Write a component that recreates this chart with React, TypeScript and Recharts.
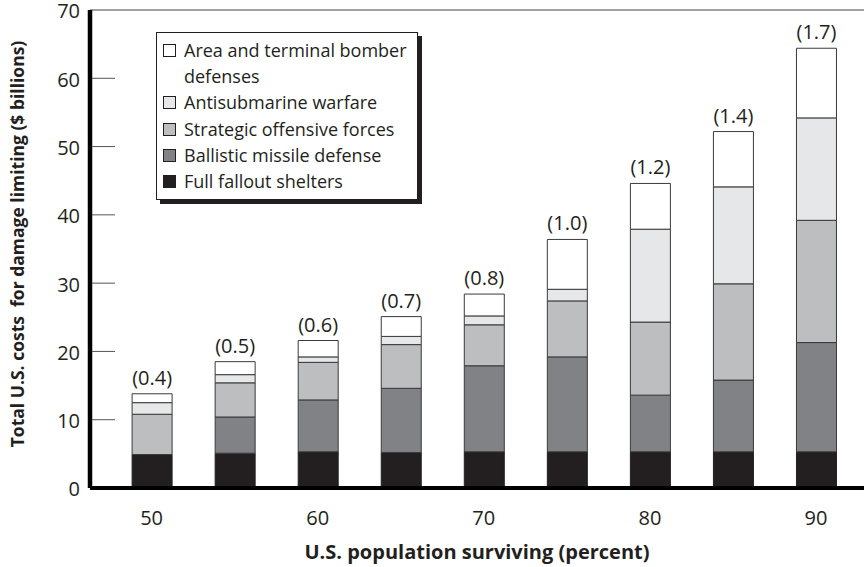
import { BarChart, Bar, XAxis, YAxis, ReferenceLine, Legend, LabelList } from 'recharts';

const survivingPct = [50, 55, 60, 65, 70, 75, 80, 85, 90];
const falloutShelters = [4.9, 5.1, 5.3, 5.2, 5.3, 5.3, 5.3, 5.3, 5.3];
const ballisticMissile = [0, 5.3, 7.6, 9.4, 12.6, 13.9, 8.3, 10.5, 16.0];
const strategicOffensive = [5.9, 5.0, 5.5, 6.4, 6.0, 8.2, 10.7, 14.1, 17.9];
const antisubmarine = [1.7, 1.2, 0.8, 1.2, 1.3, 1.7, 13.6, 14.2, 15.0];
const bomberDefense = [1.3, 1.9, 2.4, 2.9, 3.2, 7.3, 6.7, 8.1, 10.2];
const topLabels = ['(0.4)', '(0.5)', '(0.6)', '(0.7)', '(0.8)', '(1.0)', '(1.2)', '(1.4)', '(1.7)'];
const yTicks = [0, 10, 20, 30, 40, 50, 60, 70];
const xTicks = [50, 60, 70, 80, 90];

const data = survivingPct.map((p, i) => ({
  pct: p,
  shelters: falloutShelters[i],
  bmd: ballisticMissile[i],
  sof: strategicOffensive[i],
  asw: antisubmarine[i],
  area: bomberDefense[i],
  note: topLabels[i],
}));

const INK = '#231f20';
const EDGE = '#3a3a3a';

const legendItems = [
  { label: ['Area and terminal bomber', 'defenses'], fill: '#ffffff' },
  { label: ['Antisubmarine warfare'], fill: '#e6e7e8' },
  { label: ['Strategic offensive forces'], fill: '#bcbec0' },
  { label: ['Ballistic missile defense'], fill: '#808285' },
  { label: ['Full fallout shelters'], fill: INK },
];

function LegendBox() {
  return (
    <div
      style={{
        boxSizing: 'border-box',
        width: 262,
        height: 168,
        border: `1.5px solid ${INK}`,
        boxShadow: `4px 4px 0 ${INK}`,
        background: '#fff',
        padding: '4px 0 0 6px',
        fontSize: 18,
        lineHeight: '26.2px',
        color: INK,
        whiteSpace: 'nowrap',
      }}
    >
      {legendItems.map((it) => (
        <div key={it.label[0]} style={{ display: 'flex', alignItems: 'flex-start' }}>
          <span
            style={{
              display: 'inline-block',
              flex: 'none',
              boxSizing: 'border-box',
              width: 13,
              height: 13,
              marginTop: 7,
              marginRight: 8,
              border: `1px solid ${INK}`,
              background: it.fill,
            }}
          />
          <span>
            {it.label.map((l) => (
              <div key={l}>{l}</div>
            ))}
          </span>
        </div>
      ))}
    </div>
  );
}

function YTick(props: any) {
  const { x, y, payload } = props;
  const v = payload.value;
  return (
    <g>
      {v > 0 && v < 70 && <line x1={x + 12} x2={x + 35} y1={y} y2={y} stroke="#555" strokeWidth={1} />}
      <text x={x} y={y} dy="0.42em" textAnchor="end" fontSize={20} fill={INK}>
        {v}
      </text>
    </g>
  );
}

function YTitle(props: any) {
  const { viewBox } = props;
  const cx = viewBox.x - 6;
  const cy = 244;
  return (
    <text
      x={cx}
      y={cy}
      transform={`rotate(-90 ${cx} ${cy})`}
      textAnchor="middle"
      fontSize={17.5}
      fontWeight="bold"
      fill={INK}
    >
      Total U.S. costs{'\u00a0 '}for damage limiting ($ billions)
    </text>
  );
}

export default function App() {
  return (
    <div style={{ position: 'absolute', left: 0, top: 0, fontFamily: '"Open Sans", sans-serif' }}>
      <BarChart width={864} height={567} data={data} margin={{ top: 10, right: 0, left: 30, bottom: 39 }}>
        <ReferenceLine y={70} stroke="#444" strokeWidth={1.2} />
        <XAxis
          dataKey="pct"
          type="number"
          domain={[46.29, 92.89]}
          allowDataOverflow
          ticks={xTicks}
          height={40}
          axisLine={{ stroke: '#000', strokeWidth: 4 }}
          tickLine={false}
          tickSize={0}
          tickMargin={23}
          tick={{ fontSize: 20, fill: INK }}
          label={{ value: 'U.S. population surviving (percent)', position: 'bottom', offset: 17, fontSize: 20, fontWeight: 'bold', fill: INK }}
        />
        <YAxis
          type="number"
          domain={[0, 70]}
          ticks={yTicks}
          width={60}
          axisLine={{ stroke: '#000', strokeWidth: 4.5 }}
          tickLine={false}
          tickSize={0}
          tickMargin={10}
          tick={<YTick />}
          label={<YTitle />}
        />
        <Legend
          layout="horizontal"
          verticalAlign="middle"
          align="center"
          wrapperStyle={{ left: 156, top: 32, width: 270, height: 175 }}
          content={() => <LegendBox />}
        />
        <Bar dataKey="shelters" stackId="s" barSize={40} fill={INK} stroke={INK} strokeWidth={1} isAnimationActive={false} />
        <Bar dataKey="bmd" stackId="s" barSize={40} fill="#808285" stroke={EDGE} strokeWidth={1} isAnimationActive={false} />
        <Bar dataKey="sof" stackId="s" barSize={40} fill="#bcbec0" stroke={EDGE} strokeWidth={1} isAnimationActive={false} />
        <Bar dataKey="asw" stackId="s" barSize={40} fill="#e6e7e8" stroke={EDGE} strokeWidth={1} isAnimationActive={false} />
        <Bar dataKey="area" stackId="s" barSize={40} fill="#ffffff" stroke={EDGE} strokeWidth={1} isAnimationActive={false}>
          <LabelList dataKey="note" position="top" offset={9} fontSize={20} fill={INK} />
        </Bar>
      </BarChart>
    </div>
  );
}
